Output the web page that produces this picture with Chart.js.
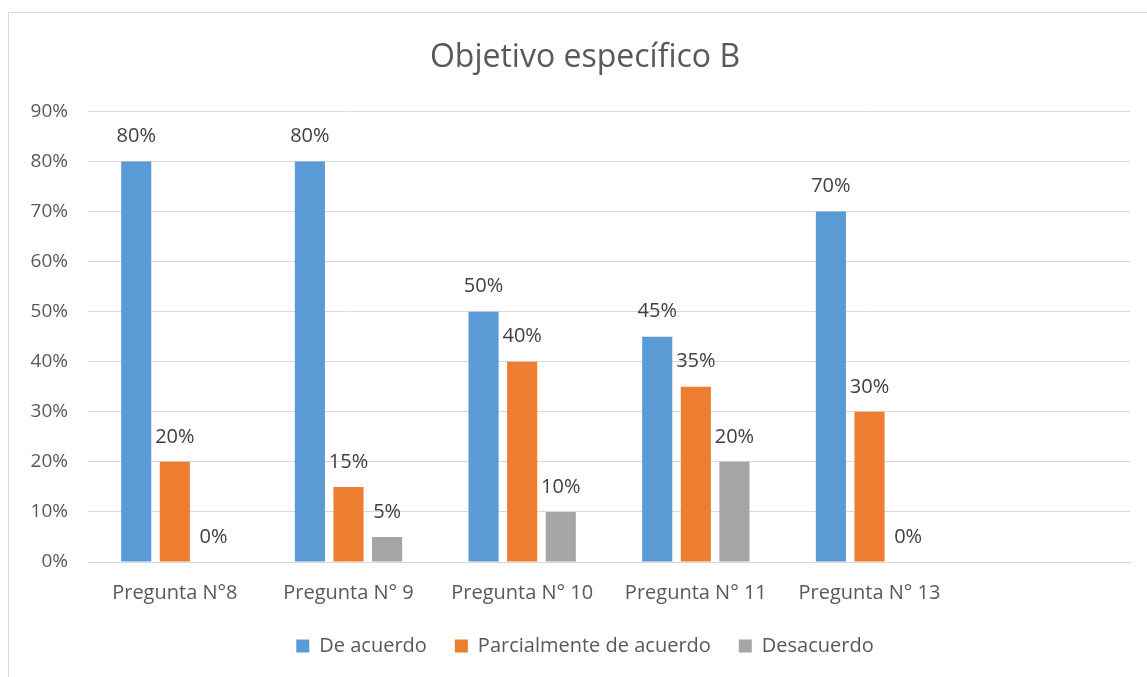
<!DOCTYPE html>
<html>
<head>
<meta charset="utf-8">
<script src="https://cdn.jsdelivr.net/npm/chart.js@4/dist/chart.umd.min.js"></script>
<style>
  html, body { margin: 0; padding: 0; background: #fff; overflow: hidden; }
  .frame { position: absolute; left: 8px; top: 12px; width: 1200px; height: 700px;
           border-left: 1px solid #d9d9d9; border-top: 1px solid #d9d9d9; }
  #chart { position: absolute; left: 0; top: 0; }
</style>
</head>
<body>
<div class="frame"></div>
<canvas id="chart" width="1147" height="677"></canvas>
<script>
const categories = ["Pregunta N°8", "Pregunta N° 9", "Pregunta N° 10", "Pregunta N° 11", "Pregunta N° 13", ""];
const deAcuerdo = [80, 80, 50, 45, 70, null];
const parcialmente = [20, 15, 40, 35, 30, null];
const desacuerdo = [0, 5, 10, 20, 0, null];
const yTicks = [0, 10, 20, 30, 40, 50, 60, 70, 80, 90];

const FONT = "'Open Sans', 'Liberation Sans', sans-serif";

// draws the value labels above each bar
const valueLabels = {
  id: "valueLabels",
  afterDatasetsDraw(chart) {
    const ctx = chart.ctx;
    ctx.save();
    ctx.font = "20px " + FONT;
    ctx.fillStyle = "#404040";
    ctx.textAlign = "center";
    ctx.textBaseline = "middle";
    chart.data.datasets.forEach((ds, i) => {
      chart.getDatasetMeta(i).data.forEach((bar, j) => {
        const v = ds.data[j];
        if (v === null || v === undefined) return;
        ctx.fillText(v + "%", bar.x, bar.y - 25);
      });
    });
    ctx.restore();
  },
};

// title and legend are centred on the whole chart frame, not from the canvas edge
const frameCentre = {
  id: "frameCentre",
  afterLayout(chart) {
    [chart.titleBlock, chart.legend].forEach((b) => { if (b) b.left = 40; });
  },
};

new Chart(document.getElementById("chart"), {
  type: "bar",
  data: {
    labels: categories,
    datasets: [
      { label: "De acuerdo", data: deAcuerdo, backgroundColor: "#5B9BD5" },
      { label: "Parcialmente de acuerdo", data: parcialmente, backgroundColor: "#ED7D31" },
      { label: "Desacuerdo", data: desacuerdo, backgroundColor: "#A5A5A5" },
    ],
  },
  options: {
    responsive: false,
    animation: false,
    categoryPercentage: 0.667,
    barPercentage: 0.78,
    layout: { padding: { left: 0, right: 17, top: 0, bottom: 11 } },
    plugins: {
      title: {
        display: true,
        text: "Objetivo específico B",
        color: "#595959",
        font: { family: FONT, size: 32, weight: "normal" },
        padding: { top: 39, bottom: 34 },
      },
      legend: {
        position: "bottom",
        labels: {
          color: "#595959",
          font: { family: FONT, size: 20 },
          boxWidth: 13,
          boxHeight: 13,
          padding: 28,
        },
      },
      tooltip: { enabled: false },
    },
    scales: {
      x: {
        grid: { display: false, drawTicks: false },
        border: { display: true, color: "#d9d9d9" },
        ticks: { color: "#595959", font: { family: FONT, size: 20 }, padding: 19, maxRotation: 0 },
        afterFit: (s) => { s.height = 46; },
      },
      y: {
        min: 0,
        max: 90,
        afterBuildTicks: (s) => { s.ticks = yTicks.map((v) => ({ value: v })); },
        grid: { color: "#d9d9d9", drawTicks: false },
        border: { display: false },
        ticks: { color: "#595959", font: { family: FONT, size: 19 }, padding: 20, callback: (v) => v + "%" },
        afterFit: (s) => { s.width = 88; },
      },
    },
  },
  plugins: [valueLabels, frameCentre],
});
</script>
</body>
</html>
